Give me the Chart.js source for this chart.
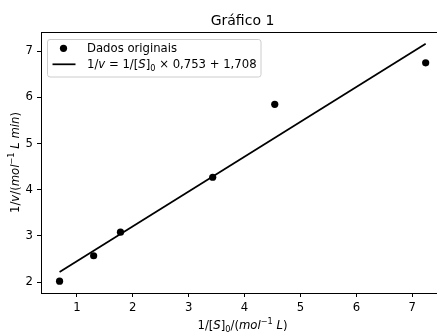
<!DOCTYPE html>
<html>
<head>
<meta charset="utf-8">
<script src="https://cdn.jsdelivr.net/npm/chart.js@4.4.1/dist/chart.umd.min.js"></script>
<style>
html,body{margin:0;padding:0;overflow:hidden;background:#fff;width:437px;height:332px;}
canvas{display:block;}
</style>
</head>
<body>
<canvas id="c" width="485" height="332"></canvas>
<script>
// ---- data ----
const xValues = [0.69, 1.30, 1.78, 3.43, 4.54, 7.24];
const yValues = [2.02, 2.57, 3.08, 4.27, 5.85, 6.75];
const fitX = [0.69, 7.24];
const fitY = [2.22, 7.16];
const xTicks = [1, 2, 3, 4, 5, 6, 7];
const yTicks = [2, 3, 4, 5, 6, 7];
const seriesLabels = ['Dados originais', '1/v = 1/[S]₀ × 0,753 + 1,708'];
const chartTitle = 'Gráfico 1';
const xTitle = '1/[S]₀/(mol⁻¹ L)';
const yTitle = '1/v/(mol⁻¹ L min)';

const FONT = '"DejaVu Sans", "Liberation Sans", sans-serif';
const FS = 11.67;   // 10pt
const FS_SMALL = 8.2;

function segFont(s){ return (s.it ? 'italic ' : '') + s.sz + 'px ' + FONT; }
function drawRich(ctx, segs, x, y, align){
  let w = 0;
  segs.forEach(s => { ctx.font = segFont(s); s.w = ctx.measureText(s.t).width; w += s.w; });
  let cx = align === 'center' ? x - w/2 : x;
  ctx.textBaseline = 'alphabetic';
  ctx.textAlign = 'left';
  segs.forEach(s => { ctx.font = segFont(s); ctx.fillText(s.t, cx, y + (s.dy||0)); cx += s.w; });
  return w;
}
const N = (t)=>({t, it:false, sz:FS});
const I = (t)=>({t, it:true, sz:FS});
const SUB = (t)=>({t, it:false, sz:FS_SMALL, dy:2.8});
const SUP = (t)=>({t, it:false, sz:FS_SMALL, dy:-5});

const richPlugin = {
  id: 'rich',
  afterDraw(chart){
    const ctx = chart.ctx;
    const ca = chart.chartArea;
    ctx.save();
    ctx.fillStyle = '#000';
    // x axis title
    drawRich(ctx, [N('1/['), I('S'), N(']'), SUB('0'), N('/('), I('mol'), SUP('−1'), N(' '), I('L'), N(')')],
      (ca.left + ca.right)/2, 329, 'center');
    // y axis title
    ctx.save();
    ctx.translate(19, (ca.top + ca.bottom)/2);
    ctx.rotate(-Math.PI/2);
    drawRich(ctx, [N('1/'), I('v'), N('/('), I('mol'), SUP('−1'), N(' '), I('L'), N(' '), I('min'), N(')')], 0, 0, 'center');
    ctx.restore();
    // legend
    const lx = ca.left + 6.5, ly = ca.top + 7.5, lw = 213.5, lh = 37.5, r = 2.5;
    ctx.beginPath();
    ctx.moveTo(lx + r, ly);
    ctx.lineTo(lx + lw - r, ly); ctx.arcTo(lx + lw, ly, lx + lw, ly + r, r);
    ctx.lineTo(lx + lw, ly + lh - r); ctx.arcTo(lx + lw, ly + lh, lx + lw - r, ly + lh, r);
    ctx.lineTo(lx + r, ly + lh); ctx.arcTo(lx, ly + lh, lx, ly + lh - r, r);
    ctx.lineTo(lx, ly + r); ctx.arcTo(lx, ly, lx + r, ly, r);
    ctx.closePath();
    ctx.fillStyle = 'rgba(255,255,255,0.8)';
    ctx.fill();
    ctx.strokeStyle = '#cccccc';
    ctx.lineWidth = 1;
    ctx.stroke();
    ctx.fillStyle = '#000';
    // marker entry
    ctx.beginPath();
    ctx.arc(lx + 16, 48.3, 3.6, 0, Math.PI*2);
    ctx.fill();
    drawRich(ctx, [N(chart.data.datasets[0].label)], lx + 39.5, 52, 'left');
    // line entry
    ctx.beginPath();
    ctx.moveTo(lx + 5, 64.3);
    ctx.lineTo(lx + 28, 64.3);
    ctx.strokeStyle = '#000';
    ctx.lineWidth = 1.75;
    ctx.stroke();
    drawRich(ctx, [N('1/'), I('v'), N(' = 1/['), I('S'), N(']'), SUB('0'), N(' × 0,753 + 1,708')], lx + 39.5, 68, 'left');
    ctx.restore();
  }
};

const axisCommon = {
  grid: { display: true, drawOnChartArea: false, drawTicks: true, tickLength: 4, color: '#000', tickWidth: 1 },
  border: { display: true, color: '#000', width: 1 },
  ticks: { color: '#000', font: { family: FONT, size: FS }, padding: 4, maxRotation: 0, autoSkip: false }
};

new Chart(document.getElementById('c'), {
  type: 'scatter',
  data: {
    datasets: [
      {
        label: seriesLabels[0],
        data: xValues.map((x, i) => ({ x, y: yValues[i] })),
        showLine: false,
        pointRadius: 3.6,
        pointBackgroundColor: '#000',
        pointBorderWidth: 0,
        order: 1
      },
      {
        label: seriesLabels[1],
        data: fitX.map((x, i) => ({ x, y: fitY[i] })),
        showLine: true,
        borderColor: '#000',
        borderWidth: 1.75,
        pointRadius: 0,
        order: 2
      }
    ]
  },
  options: {
    responsive: false,
    animation: false,
    events: [],
    layout: { padding: 0 },
    plugins: {
      legend: { display: false },
      tooltip: { enabled: false },
      title: {
        display: true,
        text: chartTitle,
        color: '#000',
        font: { family: FONT, size: 14, weight: 'normal', lineHeight: 1.2 },
        padding: { top: 12.8, bottom: 2.4 }
      }
    },
    scales: {
      x: Object.assign({}, axisCommon, {
        type: 'linear', position: 'bottom', min: 0.358, max: 7.568,
        afterBuildTicks: s => { s.ticks = xTicks.map(v => ({ value: v })); },
        afterFit: s => { s.height = 39; }
      }),
      y: Object.assign({}, axisCommon, {
        type: 'linear', position: 'left', min: 1.763, max: 7.417,
        afterBuildTicks: s => { s.ticks = yTicks.map(v => ({ value: v })); },
        afterFit: s => { s.width = 41; }
      }),
      x2: {
        type: 'linear', position: 'top', display: true,
        grid: { display: false, drawTicks: false },
        border: { display: true, color: '#000', width: 1 },
        ticks: { display: false },
        afterFit: s => { s.height = 0; }
      },
      y2: {
        type: 'linear', position: 'right', display: true,
        grid: { display: false, drawTicks: false },
        border: { display: true, color: '#000', width: 1 },
        ticks: { display: false },
        afterFit: s => { s.width = 41; }
      }
    }
  },
  plugins: [richPlugin]
});
</script>
</body>
</html>
